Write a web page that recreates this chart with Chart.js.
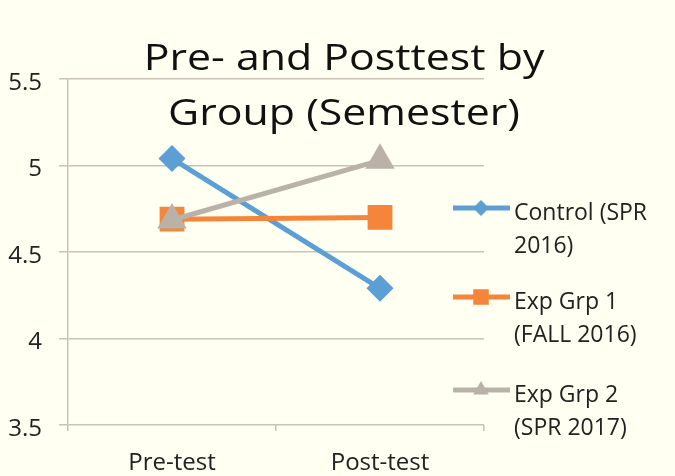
<!DOCTYPE html>
<html>
<head>
<meta charset="utf-8">
<script src="https://cdn.jsdelivr.net/npm/chart.js@4"></script>
<style>
  html, body { margin: 0; padding: 0; background: #fffff2; }
  #wrap { width: 675px; height: 476px; position: relative; }
</style>
</head>
<body>
<div id="wrap"><canvas id="chart"></canvas></div>
<script>
// chart data
const categories = ['Pre-test', 'Post-test'];
const controlValues = [5.04, 4.29];
const exp1Values = [4.69, 4.70];
const exp2Values = [4.685, 5.03];
const seriesLabels = [['Control (SPR', '2016)'], ['Exp Grp 1', '(FALL 2016)'], ['Exp Grp 2', '(SPR 2017)']];
const titleLines = ['Pre- and Posttest by', 'Group (Semester)'];

const FONT = '"Open Sans", sans-serif';
const gridColor = '#cbc1b6';

// title drawn over plot area, like the original (a bit stretched wide)
const titlePlugin = {
    id: 'overTitle',
    afterDraw(chart) {
        const ctx = chart.ctx;
        ctx.save();
        ctx.fillStyle = '#111';
        ctx.font = '36px ' + FONT;
        ctx.textAlign = 'center';
        ctx.textBaseline = 'alphabetic';
        [70, 125].forEach((y, i) => {
            ctx.save();
            ctx.translate(344, y);
            ctx.scale(1.19, 1);
            ctx.fillText(titleLines[i], 0, 0);
            ctx.restore();
        });
        ctx.restore();
    }
};

// two-line legend on the right
const legendPlugin = {
    id: 'sideLegend',
    afterDraw(chart) {
        const ctx = chart.ctx;
        const rows = [208, 297, 390];
        ctx.save();
        chart.data.datasets.forEach((ds, i) => {
            const y = rows[i];
            ctx.strokeStyle = ds.borderColor;
            ctx.lineWidth = 5;
            ctx.beginPath();
            ctx.moveTo(453, y);
            ctx.lineTo(510, y);
            ctx.stroke();
            ctx.fillStyle = ds.backgroundColor;
            ctx.strokeStyle = ds.backgroundColor;
            Chart.helpers.drawPoint(ctx, {
                pointStyle: ds.pointStyle,
                radius: ds.legendRadius,
                rotation: 0,
                borderWidth: 0
            }, 481, y);
            ctx.fillStyle = '#222';
            ctx.font = '23px ' + FONT;
            ctx.textAlign = 'left';
            ctx.textBaseline = 'middle';
            seriesLabels[i].forEach((t, j) => ctx.fillText(t, 514, y + 5 + j * 33));
        });
        ctx.restore();
    }
};

new Chart(document.getElementById('chart'), {
    type: 'line',
    data: {
        labels: categories,
        datasets: [{
            label: seriesLabels[0].join(' '),
            data: controlValues,
            borderColor: '#5b9fd5',
            backgroundColor: '#5b9fd5',
            pointStyle: 'rectRot',
            pointRadius: 10,
            legendRadius: 8,
            borderWidth: 5,
            order: 3
        }, {
            label: seriesLabels[1].join(' '),
            data: exp1Values,
            borderColor: '#f5853a',
            backgroundColor: '#f5853a',
            pointStyle: 'rect',
            pointRadius: 14,
            legendRadius: 11,
            borderWidth: 5,
            order: 2
        }, {
            label: seriesLabels[2].join(' '),
            data: exp2Values,
            borderColor: '#bab2a9',
            backgroundColor: '#bab2a9',
            pointStyle: 'triangle',
            pointRadius: 12,
            legendRadius: 9,
            borderWidth: 5,
            order: 1
        }]
    },
    options: {
        responsive: true,
        maintainAspectRatio: false,
        animation: false,
        layout: { padding: { top: 79, right: 191, left: 0, bottom: 0 } },
        elements: {
            line: { tension: 0 },
            point: { borderWidth: 0 }
        },
        scales: {
            x: {
                offset: true,
                grid: { display: true, drawOnChartArea: false, color: gridColor, tickLength: 6, lineWidth: 1.5, offset: true },
                border: { display: false },
                ticks: { color: '#222', font: { family: FONT, size: 24 }, padding: 18 },
                afterFit(scale) { scale.height = 51; }
            },
            y: {
                min: 3.5,
                max: 5.5,
                grid: { color: gridColor, lineWidth: 1.5, tickLength: 9 },
                border: { color: gridColor, width: 1.5 },
                ticks: {
                    stepSize: 0.5,
                    color: '#222',
                    font: { family: FONT, size: 24 },
                    padding: 17,
                    labelOffset: 4,
                    callback: v => String(v)
                },
                afterFit(scale) { scale.width = 68; }
            }
        },
        plugins: {
            legend: { display: false },
            title: { display: false },
            tooltip: { enabled: false }
        }
    },
    plugins: [titlePlugin, legendPlugin]
});
</script>
</body>
</html>
